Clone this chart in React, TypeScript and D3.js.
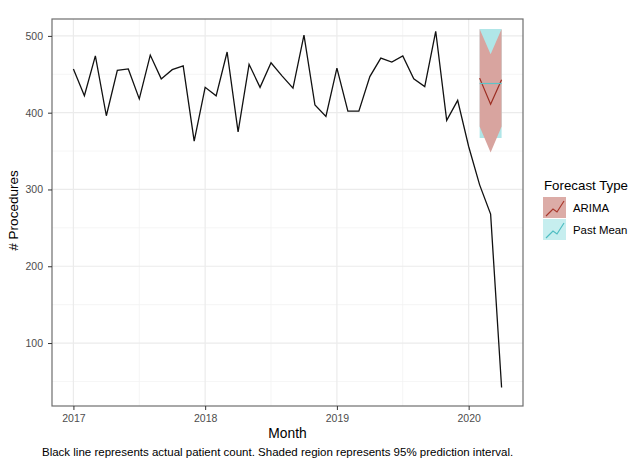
import * as d3 from 'd3';
import { useEffect, useRef } from 'react';

// monthly actual counts, Jan 2017 .. Apr 2020
const months: string[] = [
    '2017/01', '2017/02', '2017/03', '2017/04', '2017/05', '2017/06', '2017/07', '2017/08', '2017/09', '2017/10', '2017/11', '2017/12',
    '2018/01', '2018/02', '2018/03', '2018/04', '2018/05', '2018/06', '2018/07', '2018/08', '2018/09', '2018/10', '2018/11', '2018/12',
    '2019/01', '2019/02', '2019/03', '2019/04', '2019/05', '2019/06', '2019/07', '2019/08', '2019/09', '2019/10', '2019/11', '2019/12',
    '2020/01', '2020/02', '2020/03', '2020/04',
];
const procedures: number[] = [
    457, 422, 474, 396, 455, 457, 418, 475, 444, 456, 461, 363,
    433, 422, 479, 375, 463, 433, 465, 448, 432, 501, 410, 395,
    458, 402, 402, 447, 471, 466, 474, 444, 434, 506, 390, 416,
    356, 306, 268, 42,
];

// forecasts, Feb .. Apr 2020
const forecastMonths: string[] = ['2020/02', '2020/03', '2020/04'];
const arimaMean: number[] = [445, 411, 443];
const arimaLower: number[] = [382, 348, 382];
const arimaUpper: number[] = [509, 476, 509];
const pastMean: number[] = [438, 438, 438];
const pastLower: number[] = [367, 367, 367];
const pastUpper: number[] = [509, 509, 509];

const yTicks: number[] = [100, 200, 300, 400, 500];
const yMinor: number[] = [50, 150, 250, 350, 450];
const xTicks: number[] = [2017, 2018, 2019, 2020];
const xMinor: number[] = [2017.5, 2018.5, 2019.5];

const toYear = (m: string) => {
    const [y, mo] = m.split('/').map(Number);
    return y + (mo - 1) / 12;
};

export default function App() {
    const ref = useRef<SVGSVGElement | null>(null);

    useEffect(() => {
        if (!ref.current) return;
        const svg = d3.select(ref.current);
        svg.selectAll('*').remove();

        const margin = { top: 19, right: 113, bottom: 52, left: 52 };
        const width = 636;
        const height = 458;
        const font = 'Liberation Sans, Arial, sans-serif';

        const t0 = toYear(months[0]);
        const t1 = toYear(months[months.length - 1]);
        const pad = (t1 - t0) * 0.05;
        const x = d3.scaleLinear().domain([t0 - pad, t1 + pad]).range([margin.left, width - margin.right]);
        const y = d3.scaleLinear().domain([18, 522]).range([height - margin.bottom, margin.top]);

        // grid
        const grid = svg.append('g');
        grid.selectAll('line.ymin').data(yMinor).join('line')
            .attr('x1', margin.left).attr('x2', width - margin.right)
            .attr('y1', (d) => y(d)).attr('y2', (d) => y(d))
            .attr('stroke', '#f2f2f2').attr('stroke-width', 0.8);
        grid.selectAll('line.xmin').data(xMinor).join('line')
            .attr('y1', margin.top).attr('y2', height - margin.bottom)
            .attr('x1', (d) => x(d)).attr('x2', (d) => x(d))
            .attr('stroke', '#f2f2f2').attr('stroke-width', 0.8);
        grid.selectAll('line.ymaj').data(yTicks).join('line')
            .attr('x1', margin.left).attr('x2', width - margin.right)
            .attr('y1', (d) => y(d)).attr('y2', (d) => y(d))
            .attr('stroke', '#ebebeb').attr('stroke-width', 1.2);
        grid.selectAll('line.xmaj').data(xTicks).join('line')
            .attr('y1', margin.top).attr('y2', height - margin.bottom)
            .attr('x1', (d) => x(d)).attr('x2', (d) => x(d))
            .attr('stroke', '#ebebeb').attr('stroke-width', 1.2);

        const fx = forecastMonths.map(toYear);

        const area = d3.area<number>()
            .x((_, i) => x(fx[i]));

        // Past Mean ribbon under ARIMA ribbon
        svg.append('path')
            .attr('d', area.y0((_, i) => y(pastLower[i])).y1((_, i) => y(pastUpper[i]))(pastMean))
            .attr('fill', '#b0e6e8');
        svg.append('path')
            .attr('d', area.y0((_, i) => y(arimaLower[i])).y1((_, i) => y(arimaUpper[i]))(arimaMean))
            .attr('fill', '#d8a49f');

        const fline = d3.line<number>().x((_, i) => x(fx[i])).y((d) => y(d));
        svg.append('path').attr('d', fline(arimaMean)).attr('fill', 'none')
            .attr('stroke', '#9b2d22').attr('stroke-width', 1.2);
        svg.append('path').attr('d', fline(pastMean)).attr('fill', 'none')
            .attr('stroke', '#5cc4c8').attr('stroke-width', 1.2);

        // actual counts
        const line = d3.line<number>().x((_, i) => x(toYear(months[i]))).y((d) => y(d));
        svg.append('path').attr('d', line(procedures)).attr('fill', 'none')
            .attr('stroke', '#111').attr('stroke-width', 1.3).attr('stroke-linejoin', 'miter');

        // panel border
        svg.append('rect')
            .attr('x', margin.left).attr('y', margin.top)
            .attr('width', width - margin.right - margin.left)
            .attr('height', height - margin.bottom - margin.top)
            .attr('fill', 'none').attr('stroke', '#6e6e6e').attr('stroke-width', 1.2);

        // axes
        const yAxis = svg.append('g')
            .attr('transform', `translate(${margin.left},0)`)
            .call(d3.axisLeft(y).tickValues(yTicks).tickSizeInner(4).tickSizeOuter(0).tickPadding(5));
        yAxis.select('.domain').remove();
        yAxis.selectAll('line').attr('stroke', '#333');
        yAxis.selectAll('text').attr('fill', '#4d4d4d').style('font-size', '10.5px').style('font-family', font);

        const xAxis = svg.append('g')
            .attr('transform', `translate(0,${height - margin.bottom})`)
            .call(d3.axisBottom(x).tickValues(xTicks).tickFormat(d3.format('d')).tickSizeInner(4).tickSizeOuter(0).tickPadding(4.5));
        xAxis.select('.domain').remove();
        xAxis.selectAll('line').attr('stroke', '#333');
        xAxis.selectAll('text').attr('fill', '#4d4d4d').style('font-size', '10.5px').style('font-family', font);

        // titles
        svg.append('text')
            .attr('x', (margin.left + width - margin.right) / 2).attr('y', 438)
            .attr('text-anchor', 'middle').style('font-size', '13.8px').style('font-family', font)
            .text('Month');
        svg.append('text')
            .attr('transform', `translate(18,${(margin.top + height - margin.bottom) / 2 - 2}) rotate(-90)`)
            .attr('text-anchor', 'middle').style('font-size', '13.5px').style('font-family', font)
            .text('# Procedures');
        svg.append('text')
            .attr('x', 42).attr('y', 456)
            .style('font-size', '11.5px').style('font-family', font)
            .text('Black line represents actual patient count. Shaded region represents 95% prediction interval.');

        // legend
        const lg = svg.append('g').attr('transform', 'translate(543,0)');
        lg.append('text').attr('x', 1).attr('y', 190)
            .style('font-size', '13.3px').style('font-family', font).text('Forecast Type');
        const keys = [
            { label: 'ARIMA', fill: '#dcaca7', stroke: '#a8382c' },
            { label: 'Past Mean', fill: '#c6eeef', stroke: '#4fbdc2' },
        ];
        const zig: [number, number][] = [[3, 19], [10, 12], [14, 15], [21, 4]];
        keys.forEach((k, i) => {
            const g = lg.append('g').attr('transform', `translate(0,${197 + i * 22})`);
            g.append('rect').attr('width', 23).attr('height', 21).attr('fill', k.fill);
            g.append('path').attr('d', d3.line()(zig)).attr('fill', 'none')
                .attr('stroke', k.stroke).attr('stroke-width', 1.2);
            g.append('text').attr('x', 30).attr('y', 14.5)
                .style('font-size', '11.4px').style('font-family', font).text(k.label);
        });
    }, []);

    return (
        <svg
            ref={ref}
            width={636}
            height={458}
            style={{ position: 'absolute', left: 0, top: 0, background: '#fff' }}
        />
    );
}
